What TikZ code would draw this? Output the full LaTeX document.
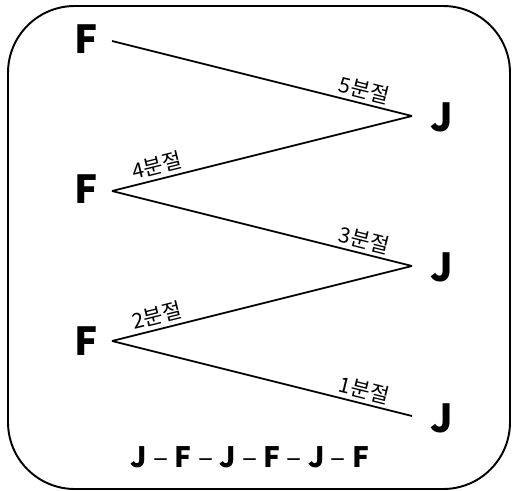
\documentclass[tikz,border=0pt]{standalone}
\usepackage{fontspec}
\setmainfont{Noto Sans CJK KR}
\newfontfamily\kr{Noto Sans CJK KR}
\begin{document}
\begin{tikzpicture}[x=0.02cm,y=-0.02cm,
  letter/.style={font=\fontsize{22}{24}\selectfont\bfseries, inner sep=0pt},
  seg/.style={line width=1pt},
  lab/.style={font=\kr\fontsize{12}{14}\selectfont, inner sep=2pt}]
\useasboundingbox (0,0) rectangle (512,491);
\draw[line width=1.1pt, rounded corners=38pt] (8,6) rectangle (510,489);
\node[letter] (F1) at (86,39) {F};
\node[letter] (F2) at (86,189) {F};
\node[letter] (F3) at (86,341) {F};
\node[letter] (J1) at (442,117) {J};
\node[letter] (J2) at (442,267) {J};
\node[letter] (J3) at (442,418) {J};
\coordinate (a1) at (112,41);
\coordinate (b1) at (412,116);
\coordinate (a2) at (112,191);
\coordinate (b2) at (412,266);
\coordinate (a3) at (112,341);
\coordinate (b3) at (412,416);
\draw[seg] (a1) -- (b1) node[lab, pos=0.83, above, sloped] {5분절};
\draw[seg] (a2) -- (b1) node[lab, pos=0.16, above, sloped] {4분절};
\draw[seg] (a2) -- (b2) node[lab, pos=0.83, above, sloped] {3분절};
\draw[seg] (a3) -- (b2) node[lab, pos=0.16, above, sloped] {2분절};
\draw[seg] (a3) -- (b3) node[lab, pos=0.83, above, sloped] {1분절};
\node[font=\fontsize{16}{18}\selectfont, inner sep=0pt] (seq) at (250,457)
  {\textbf{J} -- \textbf{F} -- \textbf{J} -- \textbf{F} -- \textbf{J} -- \textbf{F}};
\end{tikzpicture}
\end{document}
